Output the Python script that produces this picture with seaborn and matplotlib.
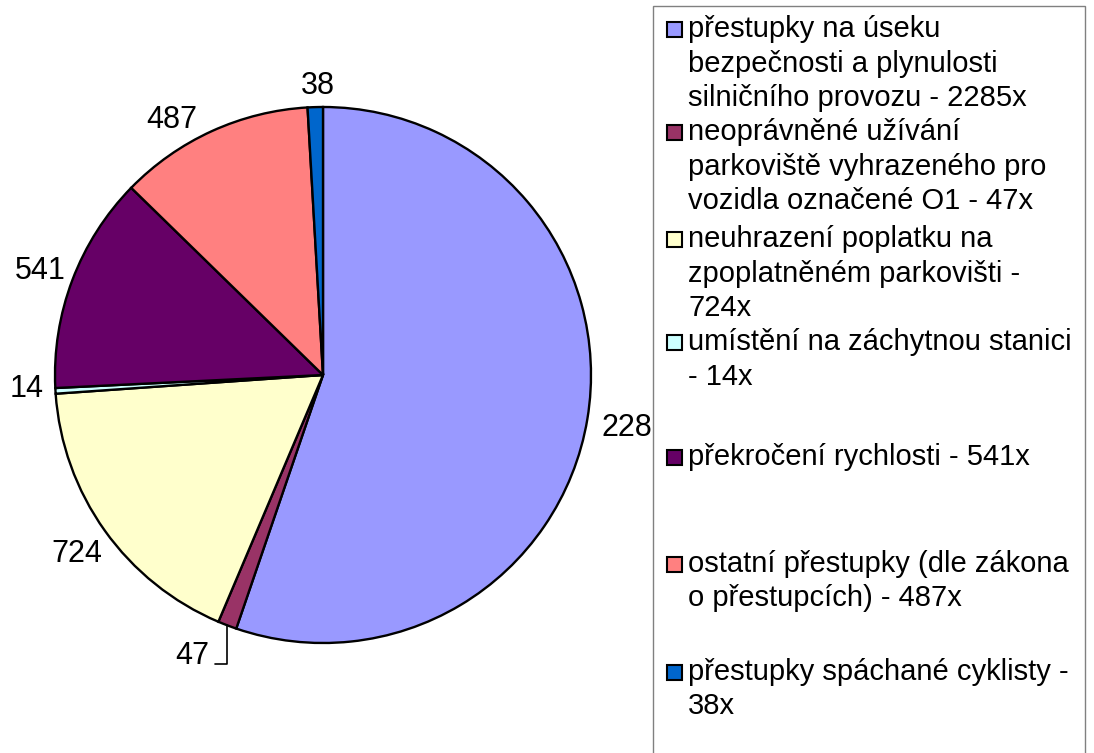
import numpy as np
import matplotlib.pyplot as plt
import matplotlib.patches as mpatches
import seaborn as sns

values = [2285, 47, 724, 14, 541, 487, 38]
value_labels = ["2285", "47", "724", "14", "541", "487", "38"]
legend_labels = [
    "přestupky na úseku\nbezpečnosti a plynulosti\nsilničního provozu - 2285x",
    "neoprávněné užívání\nparkoviště vyhrazeného pro\nvozidla označené O1 - 47x",
    "neuhrazení poplatku na\nzpoplatněném parkovišti -\n724x",
    "umístění na záchytnou stanici\n- 14x",
    "překročení rychlosti - 541x",
    "ostatní přestupky (dle zákona\no přestupcích) - 487x",
    "přestupky spáchané cyklisty -\n38x",
]
colors = ["#9999FF", "#993366", "#FFFFCC", "#CCFFFF", "#660066", "#FF8080", "#0066CC"]

sns.set_theme(style="white")
plt.rcParams["font.family"] = ["Liberation Sans", "DejaVu Sans"]
plt.rcParams["text.color"] = "black"

W, H = 1094, 753
fig = plt.figure(figsize=(W / 100, H / 100), dpi=100)
ax = fig.add_axes([0, 0, 1, 1])

# axes in pixel units, y up
cx, cy, r = 323, H - 375, 268
wedges, _ = ax.pie(values, colors=sns.color_palette(colors), startangle=90,
                   counterclock=False, center=(cx, cy), radius=r,
                   wedgeprops=dict(edgecolor="black", linewidth=1.7))
ax.set_xlim(0, W)
ax.set_ylim(0, H)
ax.set_aspect("equal")
ax.axis("off")

# small nudges for the value labels (px)
nudge = {0: (14, 0), 3: (5, 7), 5: (-26, -16), 6: (4, -9)}
for i, (w, lab) in enumerate(zip(wedges, value_labels)):
    mid = np.deg2rad((w.theta1 + w.theta2) / 2)
    if i == 1:
        # leader line for the tiny slice
        ex, ey = cx + r * np.cos(mid), cy + r * np.sin(mid)
        ax.plot([ex, ex, ex - 12], [ey, ey - 39, ey - 39], color="black", lw=1.2)
        ax.text(ex - 18, ey - 39, lab, ha="right", va="baseline", fontsize=22)
        continue
    dx, dy = nudge.get(i, (0, 0))
    x = cx + 302 * np.cos(mid) + dx
    y = cy + 302 * np.sin(mid) + dy - 11.5
    ax.text(x, y, lab, ha="center", va="baseline", fontsize=22)

# legend box
ax.add_patch(mpatches.Rectangle((653, -10), 1085 - 653, H - 6 + 10, facecolor="white",
                                edgecolor="#808080", lw=1.0, zorder=5))
baselines = [37, 140, 247, 350, 465, 572, 680]
for lab, col, b in zip(legend_labels, colors, baselines):
    ax.add_patch(mpatches.Rectangle((667, H - b), 15, 15, facecolor=col,
                                    edgecolor="black", lw=1.5, zorder=6))
    for k, line in enumerate(lab.split("\n")):
        ax.text(688, H - b - 34.5 * k, line, fontsize=21, ha="left",
                va="baseline", zorder=7)

fig.savefig("out.png", dpi=100)
